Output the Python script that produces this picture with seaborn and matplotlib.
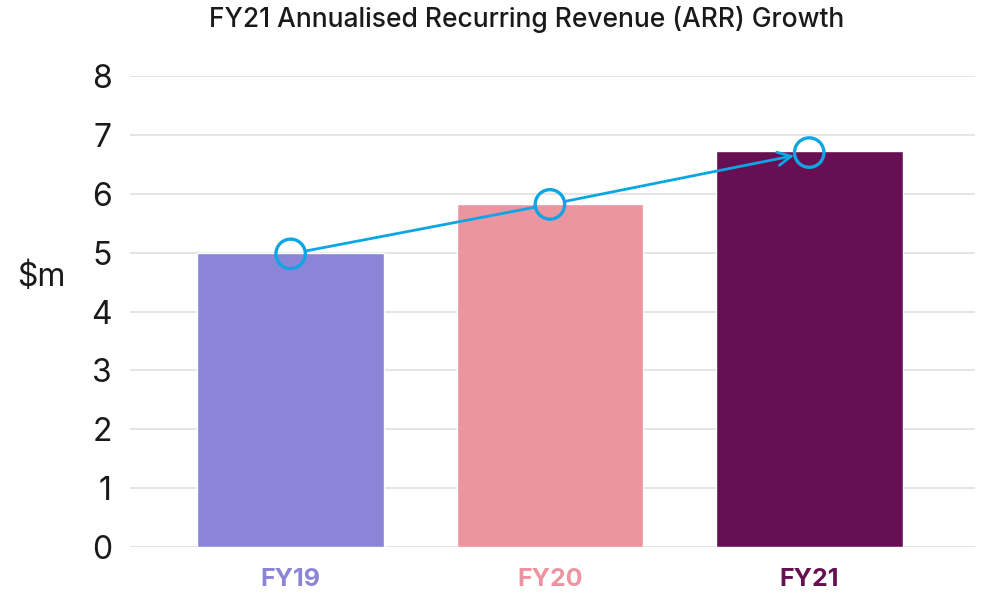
import seaborn as sns
import pandas as pd
import matplotlib.pyplot as plt
import matplotlib

years = ['FY19', 'FY20', 'FY21']
arr = [5.0, 5.83, 6.73]
marker_vals = [4.98, 5.82, 6.70]
colors = ['#8B85D8', '#EC95A0', '#660F53']
line_color = '#0EA5E4'

sns.set_style('white')
plt.rcParams['font.family'] = ['Inter', 'DejaVu Sans']

df = pd.DataFrame({'year': years, 'arr': arr})

fig = plt.figure(figsize=(9.84, 5.94), dpi=100)
ax = fig.add_axes([0.132, 0.079, 0.859, 0.793])

sns.barplot(x='year', y='arr', hue='year', data=df, palette=colors,
            width=0.72, legend=False, saturation=1, ax=ax, zorder=2)

# growth line, hollow circles joined by arrows
sns.scatterplot(x=[0, 1, 2], y=marker_vals, ax=ax, s=450, marker='o',
                facecolor='none', edgecolor=line_color, linewidth=2.4, zorder=4)
for i in range(len(marker_vals) - 1):
    style = '->' if i == len(marker_vals) - 2 else '-'
    ax.annotate('', xy=(i + 1, marker_vals[i + 1]), xytext=(i, marker_vals[i]),
                arrowprops=dict(arrowstyle=style, color=line_color, lw=2,
                                shrinkA=11, shrinkB=11, mutation_scale=24),
                zorder=3)

ax.set_xlim(-0.62, 2.64)
ax.set_ylim(0, 8)
ax.set_yticks(range(0, 9))
ax.yaxis.grid(True, color='#E0E0E0', lw=1.2, zorder=0)
ax.set_axisbelow(True)
for s in ax.spines.values():
    s.set_visible(False)
ax.tick_params(axis='y', labelsize=23, length=0, pad=13, labelcolor='#1a1a1a')
ax.tick_params(axis='x', labelsize=18, length=0, pad=15)
for lbl, c in zip(ax.get_xticklabels(), colors):
    lbl.set_color(c)
    lbl.set_fontweight('bold')

ax.set_xlabel('')
ax.set_ylabel('$m', rotation=0, fontsize=23, color='#1a1a1a')
ax.yaxis.set_label_coords(-0.105, 0.54)
fig.suptitle('FY21 Annualised Recurring Revenue (ARR) Growth', fontsize=19,
             fontweight='medium', y=0.99, x=0.535, color='#1a1a1a')

plt.savefig('out.png', dpi=100)
